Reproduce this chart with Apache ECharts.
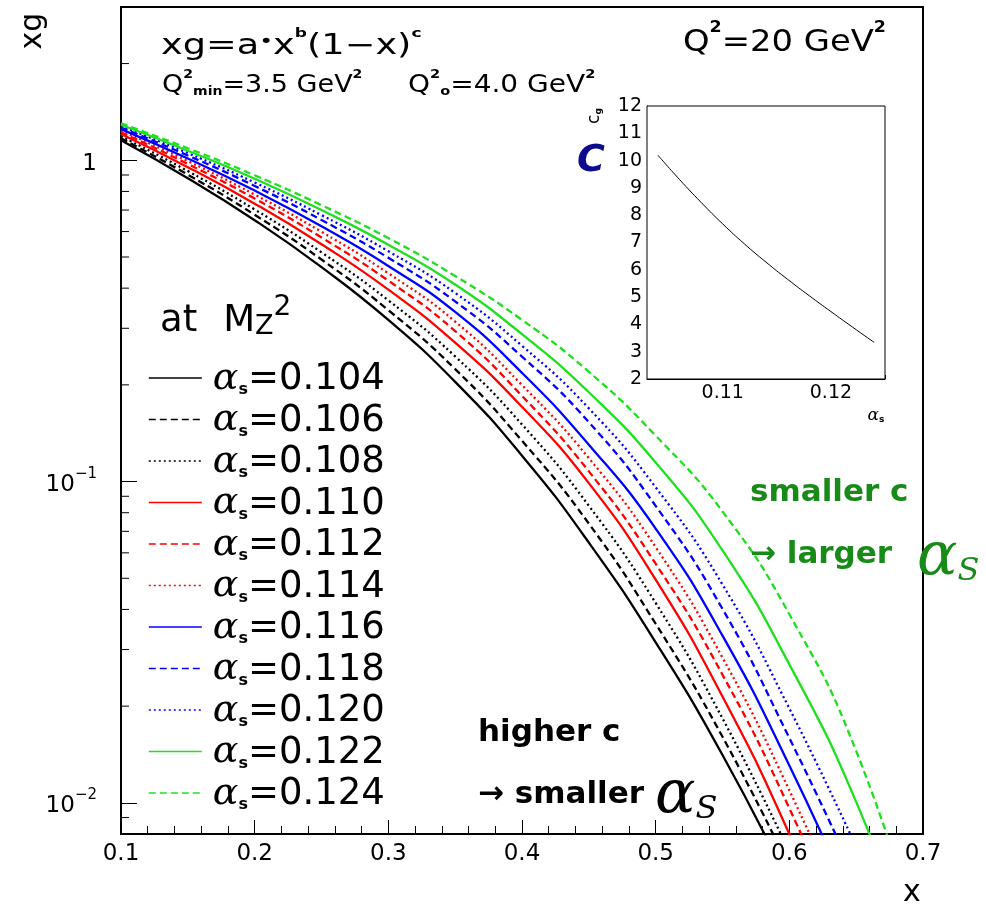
<!DOCTYPE html>
<html>
<head>
<meta charset="utf-8">
<script src="https://cdn.jsdelivr.net/npm/echarts@6/dist/echarts.min.js"></script>
<style>
  html, body { margin: 0; padding: 0; background: #fff; }
  #chart { width: 986px; height: 905px; }
</style>
</head>
<body>
<div id="chart"></div>
<script>
// x grid shared by all gluon curves
const xPoints = [0.1, 0.15, 0.2, 0.25, 0.3, 0.35, 0.4, 0.45, 0.5, 0.55, 0.6, 0.65, 0.7];

// xg at Q^2 = 20 GeV^2 for each alpha_s(M_Z^2)
const xg104 = [1.154, 0.879, 0.651, 0.465, 0.3184, 0.2044, 0.1204, 0.0646, 0.0316, 0.01409, 0.0056];
const xg106 = [1.171, 0.902, 0.677, 0.491, 0.3417, 0.2239, 0.1340, 0.0740, 0.0361, 0.01606, 0.0063];
const xg108 = [1.188, 0.926, 0.703, 0.517, 0.3665, 0.2452, 0.1506, 0.0841, 0.0419, 0.01832, 0.00703];
const xg110 = [1.207, 0.952, 0.733, 0.548, 0.3957, 0.2707, 0.1709, 0.0989, 0.0495, 0.02142, 0.0080, 0.00253];
const xg112 = [1.223, 0.974, 0.760, 0.575, 0.4220, 0.2941, 0.1848, 0.1076, 0.0555, 0.02506, 0.00962, 0.00318];
const xg114 = [1.236, 0.994, 0.782, 0.599, 0.4448, 0.3148, 0.1997, 0.1183, 0.0625, 0.02831, 0.01094, 0.00374];
const xg116 = [1.250, 1.013, 0.805, 0.623, 0.4689, 0.3372, 0.2180, 0.1303, 0.0714, 0.03315, 0.01306, 0.0046];
const xg118 = [1.265, 1.035, 0.832, 0.652, 0.4973, 0.3637, 0.2449, 0.1531, 0.0840, 0.04015, 0.01592, 0.0058];
const xg120 = [1.278, 1.053, 0.853, 0.675, 0.5212, 0.3864, 0.2647, 0.1690, 0.0960, 0.04781, 0.01968, 0.0073];
const xg122 = [1.290, 1.071, 0.876, 0.700, 0.5462, 0.4106, 0.2875, 0.1897, 0.1146, 0.06103, 0.02698, 0.01007, 0.00284];
const xg124 = [1.303, 1.090, 0.898, 0.725, 0.5726, 0.4363, 0.3186, 0.2196, 0.1390, 0.0807, 0.03864, 0.0145, 0.00347];

const alphaNames = ['0.104', '0.106', '0.108', '0.110', '0.112', '0.114', '0.116', '0.118', '0.120', '0.122', '0.124'];
const curveValues = [xg104, xg106, xg108, xg110, xg112, xg114, xg116, xg118, xg120, xg122, xg124];

// inset: fitted exponent c versus alpha_s
const insetAlpha = [0.104, 0.106, 0.108, 0.110, 0.112, 0.114, 0.116, 0.118, 0.120, 0.122, 0.124];
const insetC = [10.2, 9.31, 8.47, 7.68, 6.95, 6.28, 5.65, 5.05, 4.47, 3.90, 3.34];

// axis tick values
const yMinorTicks = [0.009, 0.02, 0.03, 0.04, 0.05, 0.06, 0.07, 0.08, 0.09,
                     0.2, 0.3, 0.4, 0.5, 0.6, 0.7, 0.8, 0.9, 2];
const insetXLabels = [0.11, 0.12];

const FONT = '"DejaVu Sans", sans-serif';
const colors = ['#000', '#000', '#000', '#f00', '#f00', '#f00', '#00f', '#00f', '#00f', '#1ee01e', '#1ee01e'];
const dashKinds = [
  { width: 2.3, type: 'solid' },
  { width: 2.3, type: [7, 4] },
  { width: 2.3, type: [2, 3] }
];

const curveSeries = alphaNames.map((name, i) => {
  const vals = curveValues[i];
  const data = vals.map((v, j) => [xPoints[j], v]);
  const dk = dashKinds[i % 3];
  return {
    name: name,
    type: 'line',
    xAxisIndex: 0,
    yAxisIndex: 0,
    data: data,
    showSymbol: false,
    symbol: 'none',
    smooth: 0.5,
    clip: true,
    color: colors[i],
    lineStyle: { color: colors[i], width: dk.width, type: dk.type },
    z: 3
  };
});

const option = {
  backgroundColor: '#fff',
  animation: false,
  grid: [
    { left: 121, top: 7, width: 802, height: 827, show: true, borderColor: '#000', borderWidth: 2,
      backgroundColor: 'transparent', containLabel: false, outerBoundsMode: 'none' },
    { left: 647, top: 106, width: 238, height: 273, show: true, borderColor: '#000', borderWidth: 1,
      backgroundColor: '#fff', containLabel: false, outerBoundsMode: 'none', z: 5 }
  ],
  xAxis: [
    {
      type: 'value', gridIndex: 0, min: 0.1, max: 0.7, interval: 0.1,
      axisLine: { lineStyle: { color: '#000', width: 2 } },
      axisTick: { inside: true, length: 14, lineStyle: { color: '#000', width: 1 } },
      minorTick: { show: true, splitNumber: 5, length: 8, lineStyle: { color: '#000', width: 1 } },
      splitLine: { show: false },
      axisLabel: { color: '#000', fontFamily: FONT, fontSize: 23, margin: 9,
        formatter: v => v.toFixed(1) }
    },
    {
      type: 'value', gridIndex: 1, min: 0.103, max: 0.125, interval: 0.001,
      axisLine: { lineStyle: { color: '#000', width: 1 } },
      axisTick: { inside: true, length: 4, lineStyle: { color: '#000', width: 1 } },
      splitLine: { show: false },
      axisLabel: { customValues: insetXLabels, color: '#000', fontFamily: FONT, fontSize: 19, margin: 5,
        formatter: v => v.toFixed(2) }
    },
    {
      type: 'value', gridIndex: 1, min: 0.103, max: 0.125,
      axisLine: { show: false },
      axisTick: { inside: true, length: 9, customValues: insetXLabels, lineStyle: { color: '#000', width: 1 } },
      axisLabel: { show: false },
      splitLine: { show: false }
    }
  ],
  yAxis: [
    {
      type: 'log', logBase: 10, gridIndex: 0, min: 0.008, max: 3,
      axisLine: { show: true, lineStyle: { color: '#000', width: 2 } },
      axisTick: { inside: true, length: 16, lineStyle: { color: '#000', width: 1 } },
      splitLine: { show: false },
      axisLabel: {
        showMinLabel: false, showMaxLabel: false, margin: 24, color: '#000',
        fontFamily: FONT, fontSize: 23,
        formatter: v => {
          const e = Math.round(Math.log10(v));
          if (e === 0) return '{b|1}';
          return '{b|10}{s|' + (e < 0 ? '\u2212' : '') + Math.abs(e) + '}';
        },
        rich: {
          b: { fontFamily: FONT, fontSize: 23, color: '#000', verticalAlign: 'bottom', lineHeight: 30 },
          s: { fontFamily: FONT, fontSize: 15, color: '#000', verticalAlign: 'top', lineHeight: 30 }
        }
      }
    },
    {
      type: 'value', gridIndex: 1, min: 2, max: 12, interval: 1,
      axisLine: { show: true, lineStyle: { color: '#000', width: 1 } },
      axisTick: { inside: true, length: 7, lineStyle: { color: '#000', width: 1 } },
      minorTick: { show: true, splitNumber: 4, length: 4, lineStyle: { color: '#000', width: 1 } },
      splitLine: { show: false },
      axisLabel: { color: '#000', fontFamily: FONT, fontSize: 19, margin: 5 }
    }
  ],
  legend: {
    data: alphaNames,
    orient: 'vertical',
    left: 148,
    top: 358,
    itemWidth: 53,
    itemHeight: 20,
    itemGap: 1.5,
    padding: 0,
    itemStyle: { opacity: 0 },
    lineStyle: { width: 1.6 },
    textStyle: {
      color: '#000',
      fontFamily: FONT,
      fontSize: 37,
      lineHeight: 40,
      padding: [0, 0, 0, 6],
      rich: {
        a: { fontFamily: '"DejaVu Serif", serif', fontStyle: 'italic', fontSize: 38, color: '#000', lineHeight: 40, verticalAlign: 'bottom' },
        s: { fontFamily: FONT, fontWeight: 'bold', fontSize: 16, color: '#000', lineHeight: 40, verticalAlign: 'bottom' },
        n: { fontFamily: FONT, fontSize: 37, color: '#000', lineHeight: 40, verticalAlign: 'bottom' }
      }
    },
    formatter: name => '{a|\u03b1}{s|s}{n|=' + name + '}'
  },
  series: curveSeries.concat([
    {
      type: 'custom',
      name: 'yMinorTicks',
      xAxisIndex: 0,
      yAxisIndex: 0,
      silent: true,
      clip: false,
      z: 6,
      data: yMinorTicks.map(v => [0.1, v]),
      renderItem: (params, api) => {
        const p = api.coord([api.value(0), api.value(1)]);
        return {
          type: 'line',
          shape: { x1: p[0], y1: p[1], x2: p[0] + 8, y2: p[1] },
          style: { stroke: '#000', lineWidth: 1 }
        };
      }
    },
    {
      type: 'line',
      name: 'inset',
      xAxisIndex: 1,
      yAxisIndex: 1,
      data: insetAlpha.map((a, i) => [a, insetC[i]]),
      showSymbol: false,
      symbol: 'none',
      smooth: 0.5,
      lineStyle: { color: '#000', width: 1 },
      z: 6
    }
  ]),
  graphic: [
    { type: 'text', x: 33, y: 31, rotation: Math.PI / 2, z: 10,
      style: { text: 'xg', font: '30px "DejaVu Sans"', fill: '#000', align: 'center', verticalAlign: 'middle' } },
    { type: 'text', x: 912, y: 893, z: 10,
      style: { text: 'x', font: '30px "DejaVu Sans"', fill: '#000', align: 'center', verticalAlign: 'middle' } },
    // formula line, widened like the original lettering
    { type: 'text', x: 161, y: 27, scaleX: 1.31, z: 10,
      style: {
        text: '{m|xg=a}{d|\u2022}{m|x}{p|b}{m|(1\u2212x)}{p|c}',
        rich: {
          m: { font: '28px "DejaVu Sans"', fill: '#000', lineHeight: 34, verticalAlign: 'bottom' },
          d: { font: '18px "DejaVu Sans"', fill: '#000', lineHeight: 24, verticalAlign: 'bottom', padding: [0, 0, 10, 0] },
          p: { font: 'bold 13px "DejaVu Sans"', fill: '#000', lineHeight: 34, verticalAlign: 'top' }
        }
      } },
    { type: 'text', x: 162, y: 68, scaleX: 1.08, z: 10,
      style: {
        text: '{m|Q}{p|2}{b|min}{m|=3.5 GeV}{p|2}',
        rich: {
          m: { font: '25px "DejaVu Sans"', fill: '#000', lineHeight: 30, verticalAlign: 'bottom' },
          p: { font: 'bold 13px "DejaVu Sans"', fill: '#000', lineHeight: 30, verticalAlign: 'top' },
          b: { font: 'bold 13px "DejaVu Sans"', fill: '#000', lineHeight: 22, verticalAlign: 'bottom' }
        }
      } },
    { type: 'text', x: 408, y: 68, scaleX: 1.12, z: 10,
      style: {
        text: '{m|Q}{p|2}{b|o}{m|=4.0 GeV}{p|2}',
        rich: {
          m: { font: '25px "DejaVu Sans"', fill: '#000', lineHeight: 30, verticalAlign: 'bottom' },
          p: { font: 'bold 13px "DejaVu Sans"', fill: '#000', lineHeight: 30, verticalAlign: 'top' },
          b: { font: 'bold 13px "DejaVu Sans"', fill: '#000', lineHeight: 22, verticalAlign: 'bottom' }
        }
      } },
    { type: 'text', x: 683, y: 20, scaleX: 1.09, z: 10,
      style: {
        text: '{m|Q}{p|2}{m|=20 GeV}{p|2}',
        rich: {
          m: { font: '31px "DejaVu Sans"', fill: '#000', lineHeight: 38, verticalAlign: 'bottom' },
          p: { font: 'bold 16px "DejaVu Sans"', fill: '#000', lineHeight: 38, verticalAlign: 'top' }
        }
      } },
    { type: 'text', x: 160, y: 294, z: 10,
      style: {
        text: '{m|at}{M|M}{z|Z}{p|2}',
        rich: {
          m: { font: '37px "DejaVu Sans"', fill: '#000', lineHeight: 46, verticalAlign: 'bottom' },
          M: { font: '37px "DejaVu Sans"', fill: '#000', lineHeight: 46, verticalAlign: 'bottom', padding: [0, 0, 0, 26] },
          z: { font: '27px "DejaVu Sans"', fill: '#000', lineHeight: 28, verticalAlign: 'bottom' },
          p: { font: '28px "DejaVu Sans"', fill: '#000', lineHeight: 46, verticalAlign: 'top' }
        }
      } },
    { type: 'text', x: 591, y: 161, z: 10,
      style: { text: 'C', font: 'italic bold 38px "DejaVu Sans"', fill: '#0c0c8c', align: 'center', verticalAlign: 'middle' } },
    { type: 'text', x: 593, y: 116, rotation: Math.PI / 2, z: 10,
      style: {
        text: '{m|c}{b|g}',
        rich: {
          m: { font: '17px "DejaVu Sans"', fill: '#000', lineHeight: 20, verticalAlign: 'bottom' },
          b: { font: 'bold 9px "DejaVu Sans"', fill: '#000', lineHeight: 16, verticalAlign: 'bottom' }
        },
        align: 'center', verticalAlign: 'middle'
      } },
    { type: 'text', x: 876, y: 414, z: 10,
      style: {
        text: '{m|\u03b1}{b|s}',
        rich: {
          m: { font: 'italic 17px "DejaVu Serif"', fill: '#000', lineHeight: 20, verticalAlign: 'bottom' },
          b: { font: 'bold 9px "DejaVu Sans"', fill: '#000', lineHeight: 16, verticalAlign: 'bottom' }
        },
        align: 'center', verticalAlign: 'middle'
      } },
    { type: 'text', x: 750, y: 477, z: 10,
      style: { text: 'smaller c', font: 'bold 31px "DejaVu Sans"', fill: '#188a18' } },
    { type: 'text', x: 750, y: 539, z: 10,
      style: { text: '\u2192 larger', font: 'bold 31px "DejaVu Sans"', fill: '#188a18' } },
    { type: 'text', x: 917, y: 528, z: 10,
      style: {
        text: '{a|\u03b1}{s|S}',
        rich: {
          a: { font: 'italic 60px "DejaVu Serif"', fill: '#188a18', lineHeight: 60, verticalAlign: 'bottom' },
          s: { font: 'italic 32px "DejaVu Serif"', fill: '#188a18', lineHeight: 44, verticalAlign: 'bottom' }
        }
      } },
    { type: 'text', x: 478, y: 717, z: 10,
      style: { text: 'higher c', font: 'bold 31px "DejaVu Sans"', fill: '#000' } },
    { type: 'text', x: 478, y: 779, z: 10,
      style: { text: '\u2192 smaller', font: 'bold 31px "DejaVu Sans"', fill: '#000' } },
    { type: 'text', x: 655, y: 766, z: 10,
      style: {
        text: '{a|\u03b1}{s|S}',
        rich: {
          a: { font: 'italic 60px "DejaVu Serif"', fill: '#000', lineHeight: 60, verticalAlign: 'bottom' },
          s: { font: 'italic 32px "DejaVu Serif"', fill: '#000', lineHeight: 44, verticalAlign: 'bottom' }
        }
      } }
  ]
};

const chart = echarts.init(document.getElementById('chart'), null, { renderer: 'canvas' });
chart.setOption(option);
</script>
</body>
</html>
